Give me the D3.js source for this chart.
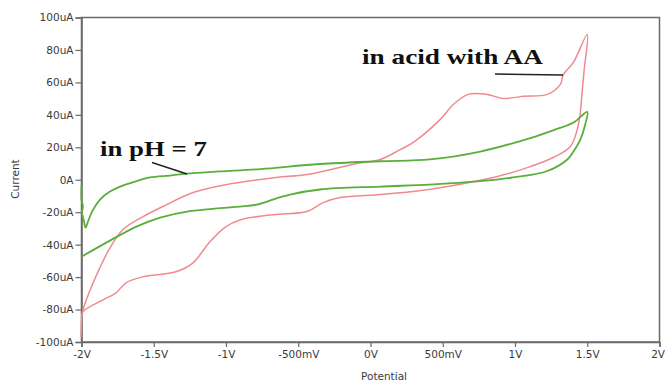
<!DOCTYPE html>
<html><head><meta charset="utf-8">
<script src="https://cdn.jsdelivr.net/npm/d3@7"></script>
<style>body{margin:0;background:#fff}svg{display:block}</style>
</head><body>
<svg id="c" width="665" height="383"></svg>
<script>
// Potential (V), Current (uA)
const greenV = [-2.0,-2.0,-1.99,-1.997,-1.983,-1.972,-1.955,-1.927,-1.872,-1.803,-1.733,-1.63,-1.526,-1.386,-1.27,-1.04,-0.76,-0.35,0.067,0.41,0.76,1.106,1.28,1.405,1.5,1.486,1.452,1.404,1.362,1.224,0.988,0.76,0.41,0.067,-0.35,-0.556,-0.646,-0.785,-0.903,-1.04,-1.27,-1.456,-1.616,-1.803,-2.0];
const greenI = [-3.6,-12.2,-16.5,-20.2,-25.4,-29.5,-25.8,-19.6,-12.2,-7.3,-4.2,-1.1,1.4,2.6,3.8,5.1,6.6,9.7,11.4,12.5,17.4,25.7,31,35.3,41.8,34.1,24.8,17.4,12.5,5.4,1.4,-0.9,-3,-4.2,-6,-9.1,-11.3,-15.3,-16.5,-17.5,-19.6,-23.3,-28.7,-37.5,-47.4];
const redV = [-2.003,-2.0,-1.993,-1.948,-1.879,-1.81,-1.713,-1.574,-1.436,-1.228,-1.0,-0.654,-0.44,-0.094,0.067,0.206,0.296,0.483,0.573,0.677,0.808,0.919,1.058,1.224,1.314,1.335,1.404,1.5,1.479,1.466,1.452,1.431,1.383,1.265,1.106,0.878,0.532,0.296,0.067,-0.21,-0.328,-0.44,-0.675,-0.903,-1.0,-1.117,-1.228,-1.346,-1.574,-1.692,-1.761,-1.851,-1.99,-2.0];
const redI = [-97,-87.5,-81.4,-69.7,-55.4,-43.1,-30.7,-22.7,-16.5,-7.9,-3.0,1.4,3.2,10,12.5,18.6,23,37.2,46.4,52.6,52.6,50.1,51.4,52.6,58.8,64.9,72.3,89.6,68,55.7,41.5,31,20.5,13.7,8.1,2.0,-4.2,-7.3,-9.1,-11,-14.1,-19.6,-21.5,-24.8,-28.9,-38.8,-51.2,-56.7,-59.8,-63.5,-69.7,-74,-81.4,-85];
const xTicks = [-2,-1.5,-1,-0.5,0,0.5,1,1.5,2];
const xTickLabels = ["-2V","-1.5V","-1V","-500mV","0V","500mV","1V","1.5V","2V"];
const yTicks = [-100,-80,-60,-40,-20,0,20,40,60,80,100];
const yTickLabels = ["-100uA","-80uA","-60uA","-40uA","-20uA","0A","20uA","40uA","60uA","80uA","100uA"];
const xTitle = "Potential", yTitle = "Current";
const annAcid = "in acid with AA", annPH = "in pH = 7";

const svg = d3.select("#c");
const L=81.5, R=659.5, T=17.5, B=342;
const x = d3.scaleLinear().domain([-2,2]).range([L,R]);
const y = d3.scaleLinear().domain([-100,100]).range([B,T]);
const axisCol = "#6a6a6a", txtCol = "#3a3a3a";
const fnt = "'DejaVu Sans', Verdana, sans-serif";

// frame
svg.append("rect").attr("x",L).attr("y",T).attr("width",R-L).attr("height",B-T)
  .attr("fill","none").attr("stroke",axisCol).attr("stroke-width",1.5);

const xa = svg.append("g").attr("transform",`translate(0,${B})`)
  .call(d3.axisBottom(x).tickValues(xTicks).tickFormat((d,i)=>xTickLabels[i]).tickSize(5).tickPadding(4));
const ya = svg.append("g").attr("transform",`translate(${L},0)`)
  .call(d3.axisLeft(y).tickValues(yTicks).tickFormat((d,i)=>yTickLabels[i]).tickSize(6).tickPadding(2));
[xa,ya].forEach(a=>{
  a.select(".domain").attr("stroke",axisCol).attr("stroke-width",1.5);
  a.selectAll(".tick line").attr("stroke",axisCol).attr("stroke-width",1.2);
  a.selectAll("text").attr("fill",txtCol).style("font-family",fnt).style("font-size","10.5px");
});
xa.selectAll(".tick text").filter(d=>d===2).attr("text-anchor","end").attr("dx","5");

svg.append("text").attr("x",361).attr("y",380).text(xTitle)
  .attr("fill",txtCol).style("font-family",fnt).style("font-size","10.5px");
svg.append("text").attr("transform","translate(19,179) rotate(-90)").attr("text-anchor","middle").text(yTitle)
  .attr("fill",txtCol).style("font-family",fnt).style("font-size","10.5px");

const line = d3.line().x(d=>x(d[0])).y(d=>y(d[1])).curve(d3.curveCatmullRom.alpha(0.5));
svg.append("path").datum(redV.map((v,i)=>[v,redI[i]])).attr("d",line)
  .attr("fill","none").attr("stroke","#f08a8f").attr("stroke-width",1.5);
svg.append("path").datum(greenV.map((v,i)=>[v,greenI[i]])).attr("d",line)
  .attr("fill","none").attr("stroke","#5aae3c").attr("stroke-width",1.8);

// annotations
const serif = "'Liberation Serif','Times New Roman',serif";
svg.append("text").attr("x",362).attr("y",64).text(annAcid)
  .attr("textLength",181).attr("lengthAdjust","spacingAndGlyphs")
  .attr("fill","#111").style("font-family",serif).style("font-weight","bold").style("font-size","22px");
svg.append("line").attr("x1",495).attr("y1",74).attr("x2",563).attr("y2",75)
  .attr("stroke","#222").attr("stroke-width",1.5);
svg.append("text").attr("x",100).attr("y",156).text(annPH)
  .attr("textLength",107).attr("lengthAdjust","spacingAndGlyphs")
  .attr("fill","#111").style("font-family",serif).style("font-weight","bold").style("font-size","22px");
svg.append("line").attr("x1",152).attr("y1",162.5).attr("x2",187).attr("y2",174)
  .attr("stroke","#222").attr("stroke-width",1.5);
</script>
</body></html>
